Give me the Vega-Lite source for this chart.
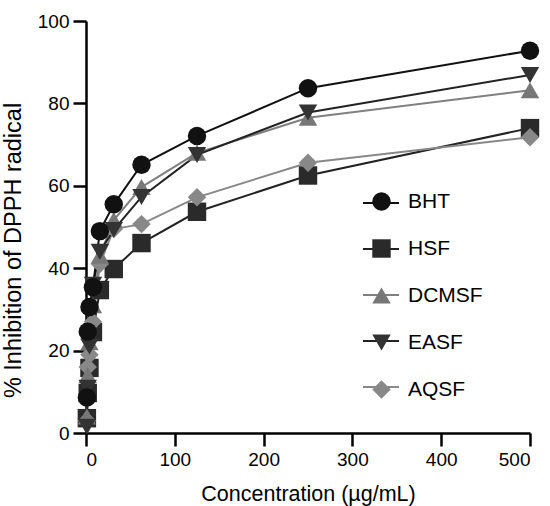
{
  "$schema": "https://vega.github.io/schema/vega-lite/v6.json",
  "width": 444,
  "height": 412,
  "autosize": {"type": "none"},
  "padding": {"left": 86, "top": 21, "right": 20, "bottom": 73},
  "background": "white",
  "config": {
    "view": {"stroke": null},
    "font": "Liberation Sans",
    "axis": {
      "grid": false,
      "domainColor": "black",
      "domainWidth": 2.5,
      "tickColor": "black",
      "tickWidth": 2.5,
      "tickSize": 13,
      "labelFont": "Liberation Sans",
      "labelFontSize": 19,
      "labelColor": "black",
      "labelPadding": 4,
      "titleFont": "Liberation Sans",
      "titleFontSize": 21.5,
      "titleFontWeight": "normal",
      "titleColor": "black"
    },
    "legend": {
      "labelFont": "Liberation Sans",
      "labelFontSize": 21,
      "labelColor": "black"
    }
  },
  "data": {
    "values": [
      {"series": "HSF", "conc": 0.98, "inh": 3.6},
      {"series": "HSF", "conc": 1.95, "inh": 9.7},
      {"series": "HSF", "conc": 3.9, "inh": 15.8},
      {"series": "HSF", "conc": 7.8, "inh": 24.5},
      {"series": "HSF", "conc": 15.6, "inh": 34.7},
      {"series": "HSF", "conc": 31.25, "inh": 39.8},
      {"series": "HSF", "conc": 62.5, "inh": 46.1},
      {"series": "HSF", "conc": 125, "inh": 53.7},
      {"series": "HSF", "conc": 250, "inh": 62.5},
      {"series": "HSF", "conc": 500, "inh": 74.0},
      {"series": "AQSF", "conc": 0.98, "inh": 3.0},
      {"series": "AQSF", "conc": 1.95, "inh": 16.0},
      {"series": "AQSF", "conc": 3.9, "inh": 19.0},
      {"series": "AQSF", "conc": 7.8, "inh": 27.0},
      {"series": "AQSF", "conc": 15.6, "inh": 41.0},
      {"series": "AQSF", "conc": 31.25, "inh": 49.5},
      {"series": "AQSF", "conc": 62.5, "inh": 50.7},
      {"series": "AQSF", "conc": 125, "inh": 57.2},
      {"series": "AQSF", "conc": 250, "inh": 65.6},
      {"series": "AQSF", "conc": 500, "inh": 71.8},
      {"series": "DCMSF", "conc": 0.98, "inh": 4.0},
      {"series": "DCMSF", "conc": 1.95, "inh": 14.0},
      {"series": "DCMSF", "conc": 3.9, "inh": 22.0},
      {"series": "DCMSF", "conc": 7.8, "inh": 31.0},
      {"series": "DCMSF", "conc": 15.6, "inh": 43.0},
      {"series": "DCMSF", "conc": 31.25, "inh": 51.7},
      {"series": "DCMSF", "conc": 62.5, "inh": 59.7},
      {"series": "DCMSF", "conc": 125, "inh": 68.0},
      {"series": "DCMSF", "conc": 250, "inh": 76.5},
      {"series": "DCMSF", "conc": 500, "inh": 83.2},
      {"series": "EASF", "conc": 0.98, "inh": 1.5},
      {"series": "EASF", "conc": 1.95, "inh": 11.0},
      {"series": "EASF", "conc": 3.9, "inh": 21.0},
      {"series": "EASF", "conc": 7.8, "inh": 36.0},
      {"series": "EASF", "conc": 15.6, "inh": 44.0},
      {"series": "EASF", "conc": 31.25, "inh": 49.3},
      {"series": "EASF", "conc": 62.5, "inh": 57.3},
      {"series": "EASF", "conc": 125, "inh": 67.5},
      {"series": "EASF", "conc": 250, "inh": 77.8},
      {"series": "EASF", "conc": 500, "inh": 86.9},
      {"series": "BHT", "conc": 0.98, "inh": 8.6},
      {"series": "BHT", "conc": 1.95, "inh": 24.6},
      {"series": "BHT", "conc": 3.9, "inh": 30.6},
      {"series": "BHT", "conc": 7.8, "inh": 35.4},
      {"series": "BHT", "conc": 15.6, "inh": 49.0},
      {"series": "BHT", "conc": 31.25, "inh": 55.5},
      {"series": "BHT", "conc": 62.5, "inh": 65.1},
      {"series": "BHT", "conc": 125, "inh": 72.1},
      {"series": "BHT", "conc": 250, "inh": 83.7},
      {"series": "BHT", "conc": 500, "inh": 92.8}
    ]
  },
  "encoding": {
    "x": {
      "field": "conc", "type": "quantitative",
      "scale": {"domain": [0, 500]},
      "axis": {"values": [0, 100, 200, 300, 400, 500], "title": "Concentration (µg/mL)", "titlePadding": 14}
    },
    "y": {
      "field": "inh", "type": "quantitative",
      "scale": {"domain": [0, 100]},
      "axis": {"values": [0, 20, 40, 60, 80, 100], "title": "% Inhibition of DPPH radical", "titlePadding": 12, "titleFontSize": 23.5, "titleY": 229}
    }
  },
  "layer": [
    {
      "mark": {"type": "line", "strokeWidth": 2},
      "encoding": {
        "stroke": {
          "field": "series", "type": "nominal",
          "sort": ["BHT", "HSF", "DCMSF", "EASF", "AQSF"],
          "scale": {"range": ["#111111", "#222222", "#808080", "#222222", "#888888"]},
          "legend": {
            "orient": "none", "legendX": 276, "legendY": 163, "title": null,
            "symbolType": "stroke", "symbolSize": 1296, "symbolStrokeWidth": 2,
            "rowPadding": 19, "labelExpr": "''", "labelFontSize": 17, "padding": 0
          }
        }
      }
    },
    {
      "mark": {"type": "point", "filled": true, "opacity": 1, "size": 340, "strokeWidth": 0},
      "encoding": {
        "color": {
          "field": "series", "type": "nominal",
          "scale": {"domain": ["BHT", "HSF", "DCMSF", "EASF", "AQSF"], "range": ["#111111", "#2a2a2a", "#777777", "#333333", "#888888"]},
          "legend": {
            "orient": "none", "legendX": 285, "legendY": 170, "title": null,
            "symbolSize": 340, "symbolStrokeWidth": 0, "symbolOpacity": 1,
            "rowPadding": 25, "labelOffset": 16, "padding": 0
          }
        },
        "shape": {
          "field": "series", "type": "nominal",
          "scale": {"domain": ["BHT", "HSF", "DCMSF", "EASF", "AQSF"], "range": ["circle", "square", "triangle-up", "triangle-down", "diamond"]},
          "legend": {
            "orient": "none", "legendX": 285, "legendY": 170, "title": null,
            "symbolSize": 340, "symbolStrokeWidth": 0, "symbolOpacity": 1,
            "rowPadding": 25, "labelOffset": 16, "padding": 0
          }
        }
      }
    }
  ]
}
